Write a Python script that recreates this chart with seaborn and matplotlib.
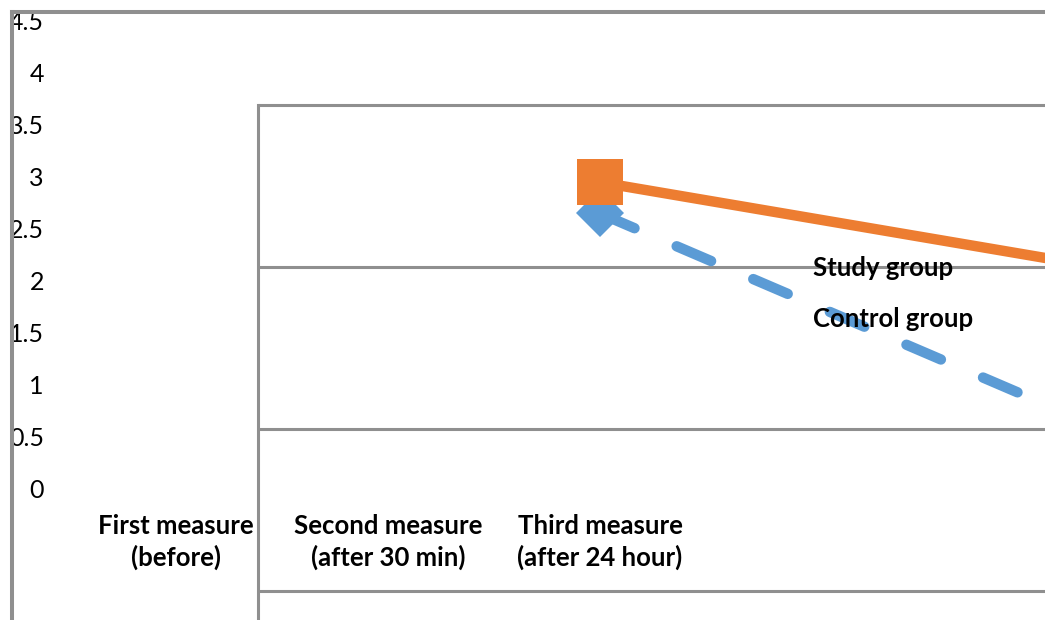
import matplotlib
matplotlib.use('Agg')
import matplotlib.pyplot as plt
import seaborn as sns
import pandas as pd

# category labels and the two series (only the third measure onward is shown)
measures = ['First measure\n(before)', 'Second measure\n(after 30 min)', 'Third measure\n(after 24 hour)']
positions = [2, 5]
study_scores = [2.94, 1.90]
control_scores = [2.64, 0.02]
groups = ['Study group', 'Control group']
y_ticks = [0, 0.5, 1, 1.5, 2, 2.5, 3, 3.5, 4, 4.5]
inner_ticks = [0, 1, 2, 3]

df = pd.DataFrame({
    'Measure': positions * 2,
    'Score': study_scores + control_scores,
    'Group': [groups[0]] * len(positions) + [groups[1]] * len(positions),
})

sns.set_style('white')
plt.rcParams['font.family'] = ['Lato', 'DejaVu Sans']
plt.rcParams['lines.dash_capstyle'] = 'round'
plt.rcParams['text.color'] = 'black'
plt.rcParams['xtick.labelcolor'] = 'black'
plt.rcParams['ytick.labelcolor'] = 'black'

W, H = 1045, 620
GRAY = '#8f8f8f'
fig = plt.figure(figsize=(W / 100, H / 100), dpi=100)

# inner plot frame with horizontal gridlines
ax2 = fig.add_axes([258 / W, 0, (W - 258) / W, 520 / H])
ax2.set_ylim(-0.179, 3.031)
ax2.set_xlim(0, 1)
ax2.set_yticks(inner_ticks)
ax2.set_xticks([])
ax2.tick_params(axis='y', length=18, width=2.2, color=GRAY, labelleft=False, direction='out')
ax2.grid(axis='y', color=GRAY, linewidth=2.2)
for s in ['top', 'right', 'bottom']:
    ax2.spines[s].set_visible(False)
ax2.spines['left'].set_color(GRAY)
ax2.spines['left'].set_linewidth(2.2)
ax2.spines['left'].set_bounds(-0.179, 3)
ax2.patch.set_visible(False)

# outer chart with the value axis and the lines
ax1 = fig.add_axes([12 / W, 0, (W - 12) / W, (H - 12) / H])
ax1.patch.set_visible(False)
sns.lineplot(data=df, x='Measure', y='Score', hue='Group', style='Group',
             hue_order=groups, style_order=groups,
             palette={'Study group': '#ED7D31', 'Control group': '#5B9BD5'},
             dashes={'Study group': '', 'Control group': (3.6, 4.4)},
             markers={'Study group': 's', 'Control group': 'D'},
             markersize=33, markeredgewidth=0, linewidth=7.5, ax=ax1)
for ln in ax1.lines:
    if ln.get_marker() == 'D':
        ln.set_markersize(24)
        ln.set_zorder(2)
    elif ln.get_marker() == 's':
        ln.set_zorder(3)

ax1.set_xlim(-0.774, 4.099)
ax1.set_ylim(-1.269, 4.577)
ax1.set_yticks(y_ticks, [f'{v:g}' for v in y_ticks])
ax1.set_xticks(range(len(measures)), measures)
ax1.tick_params(axis='y', length=0, pad=-23, labelsize=18)
ax1.tick_params(axis='x', length=0, pad=-76, labelsize=18.5)
for t in ax1.get_xticklabels():
    t.set_fontweight('bold')
    t.set_linespacing(1.3)
for t in ax1.get_yticklabels():
    t.set_clip_box(ax1.bbox)
    t.set_clip_on(True)
ax1.set_xlabel('')
ax1.set_ylabel('')
for s in ['right', 'bottom']:
    ax1.spines[s].set_visible(False)
for s in ['top', 'left']:
    ax1.spines[s].set_color(GRAY)
    ax1.spines[s].set_linewidth(2.9)

handles, labels = ax1.get_legend_handles_labels()
leg = ax1.legend(handles, labels, loc='upper left', bbox_to_anchor=(813 / W, 1 - 256 / H),
                 bbox_transform=fig.transFigure, frameon=False, handlelength=0,
                 handletextpad=0, borderaxespad=0, borderpad=0, labelspacing=1.06,
                 prop={'size': 18.5, 'weight': 'bold'})
for h in leg.legend_handles:
    h.set_visible(False)

fig.savefig('out.png', dpi=100)
